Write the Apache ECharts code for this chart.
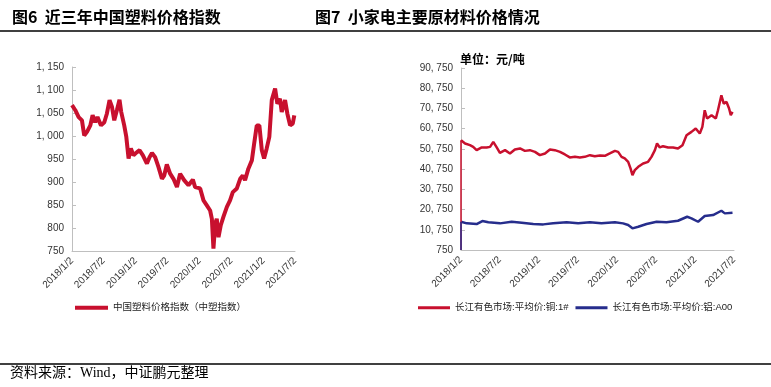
<!DOCTYPE html>
<html><head><meta charset="utf-8">
<script src="https://cdn.jsdelivr.net/npm/echarts@6/dist/echarts.min.js"></script>
<style>html,body{margin:0;padding:0;background:#fff}#c{width:771px;height:387px}</style>
</head><body><div id="c"></div>
<script>
// ---------- DATA ----------
const plasticDates = ['2018-01-02','2018-01-21','2018-02-09','2018-02-28','2018-03-13','2018-03-29','2018-04-17','2018-04-30','2018-05-15','2018-05-28','2018-06-17','2018-07-06','2018-07-21','2018-08-05','2018-08-19','2018-09-01','2018-09-16','2018-10-01','2018-10-11','2018-10-28','2018-11-09','2018-11-22','2018-12-05','2018-12-20','2019-01-09','2019-01-24','2019-02-12','2019-03-07','2019-03-22','2019-04-05','2019-04-23','2019-05-12','2019-06-01','2019-06-14','2019-06-29','2019-07-18','2019-08-06','2019-08-26','2019-09-13','2019-10-06','2019-10-31','2019-11-25','2019-12-08','2020-01-06','2020-01-25','2020-02-13','2020-03-03','2020-03-13','2020-03-22','2020-04-01','2020-04-10','2020-04-20','2020-05-03','2020-05-18','2020-06-07','2020-06-25','2020-07-11','2020-08-03','2020-08-22','2020-09-06','2020-09-19','2020-10-08','2020-10-28','2020-11-10','2020-11-25','2020-12-10','2020-12-24','2021-01-06','2021-01-21','2021-02-05','2021-02-19','2021-03-10','2021-03-23','2021-04-07','2021-04-17','2021-05-06','2021-05-19','2021-06-04','2021-06-19','2021-06-28'];
const plasticValues = [1067,1056,1041,1034,1001,1009,1023,1045,1030,1041,1023,1030,1049,1078,1063,1034,1056,1079,1052,1023,998,951,973,958,965,969,958,940,954,963,954,933,907,914,938,918,907,889,918,904,893,905,889,886,860,849,838,820,755,810,820,780,806,824,846,860,878,886,907,914,904,929,947,983,1023,1023,969,951,973,998,1078,1103,1070,1081,1052,1078,1049,1023,1027,1045];

const copperDates = ['2018-01-02','2018-01-21','2018-02-13','2018-02-28','2018-03-16','2018-04-09','2018-05-02','2018-05-18','2018-06-02','2018-06-18','2018-07-03','2018-07-27','2018-08-19','2018-09-11','2018-10-05','2018-10-28','2018-11-20','2018-12-14','2019-01-06','2019-01-30','2019-02-22','2019-03-17','2019-04-10','2019-05-03','2019-05-26','2019-06-19','2019-07-12','2019-08-04','2019-08-28','2019-09-20','2019-10-14','2019-11-06','2019-11-29','2019-12-23','2020-01-07','2020-01-23','2020-02-07','2020-02-23','2020-03-05','2020-03-14','2020-03-25','2020-04-10','2020-05-03','2020-05-26','2020-06-11','2020-06-27','2020-07-07','2020-07-20','2020-08-04','2020-08-28','2020-09-20','2020-10-13','2020-11-03','2020-11-22','2020-12-15','2021-01-04','2021-01-23','2021-02-04','2021-02-15','2021-02-26','2021-03-19','2021-04-08','2021-04-18','2021-05-04','2021-05-15','2021-05-28','2021-06-09','2021-06-17','2021-06-25'];
const copperValues = [55060,53430,52590,51750,50120,51460,51460,51750,54220,51460,48790,50120,48490,50460,50950,49770,50120,49280,47650,48490,50460,50120,49280,47990,46520,46810,46520,46810,47650,47150,47480,47310,48490,49770,49280,46810,46020,44350,41090,37780,40250,41880,43550,44350,46810,50120,53430,51460,52090,51460,51460,50950,52590,57530,59160,60850,58360,61620,69870,65770,67400,65770,69870,77270,73170,73960,70710,67400,69030];

const aluminumDates = ['2018-01-02','2018-01-29','2018-03-16','2018-04-12','2018-05-10','2018-07-03','2018-08-27','2018-10-13','2018-12-06','2019-01-22','2019-03-09','2019-05-11','2019-07-04','2019-08-28','2019-10-21','2019-12-23','2020-01-30','2020-02-23','2020-03-14','2020-04-10','2020-05-19','2020-07-05','2020-08-20','2020-10-13','2020-11-25','2020-12-15','2021-01-15','2021-02-15','2021-03-26','2021-05-04','2021-05-20','2021-06-25'];
const aluminumValues = [14720,13920,13590,15070,14430,13920,14720,14230,13590,13420,13920,14430,13920,14430,13920,14430,13920,13090,11460,12250,13590,14720,14430,15220,17200,16400,14720,17530,18030,20160,18860,19150];

const dateTickLabels = ['2018/1/2','2018/7/2','2019/1/2','2019/7/2','2020/1/2','2020/7/2','2021/1/2','2021/7/2'];
const plasticTicks = [750,800,850,900,950,1000,1050,1100,1150];
const metalTicks = [750,10750,20750,30750,40750,50750,60750,70750,80750,90750];

const plasticName = '中国塑料价格指数（中塑指数）';
const copperName = '长江有色市场:平均价:铜:1#';
const aluminumName = '长江有色市场:平均价:铝:A00';
const title6 = '图6  近三年中国塑料价格指数';
const title7 = '图7  小家电主要原材料价格情况';
const unitText = '单位：元/吨';
const sourceText = '资料来源：Wind，中证鹏元整理';

// ---------- BUILD ----------
function toTs(s){const p=s.split(/[\/-]/).map(Number);return new Date(p[0],p[1]-1,p[2]).getTime();}
const tickTs = dateTickLabels.map(toTs);
const zip = (d,v)=>d.map((x,i)=>[toTs(x),v[i]]);
const fmtDate = v=>{const d=new Date(v);return d.getFullYear()+'/'+(d.getMonth()+1)+'/'+d.getDate();};
const fmtNum = v=>String(v).replace(/\B(?=(\d{3})+(?!\d))/g, ', ');

const RED='#C8102E', NAVY='#262D8C', AX='#BFBFBF', LBL='#333';
const FONT='Liberation Sans, Arial, Noto Sans CJK SC, sans-serif';

function xAxisCfg(gi){
  return {type:'value', gridIndex:gi, min:tickTs[0], max:tickTs[tickTs.length-1], scale:true,
    axisLine:{show:true,onZero:false,lineStyle:{color:AX,width:1}}, axisTick:{show:false}, splitLine:{show:false},
    axisLabel:{customValues:tickTs, formatter:fmtDate, rotate:45, fontSize:10, color:LBL, fontFamily:FONT, margin:8, hideOverlap:false}};
}
function yAxisCfg(gi,ticks){
  return {type:'value', gridIndex:gi, min:ticks[0], max:ticks[ticks.length-1],
    axisLine:{show:true,onZero:false,lineStyle:{color:AX,width:1}},
    axisTick:{show:true, inside:true, length:4, customValues:ticks, lineStyle:{color:AX}},
    splitLine:{show:false},
    axisLabel:{customValues:ticks, formatter:fmtNum, fontSize:10, color:LBL, fontFamily:FONT, margin:8}};
}

const chart = echarts.init(document.getElementById('c'), null, {renderer:'canvas'});
chart.setOption({
  animation:false,
  backgroundColor:'#fff',
  grid:[
    {left:72, top:67, width:223, height:184},
    {left:461, top:68, width:273, height:182}
  ],
  xAxis:[xAxisCfg(0), xAxisCfg(1)],
  yAxis:[yAxisCfg(0,plasticTicks), yAxisCfg(1,metalTicks)],
  legend:[
    {left:75, top:303, padding:0, itemWidth:33, itemHeight:4, itemGap:7, icon:'rect',
      textStyle:{fontSize:9.5, color:'#222', fontFamily:FONT}, data:[plasticName]},
    {left:418, top:303, padding:0, itemWidth:32, itemHeight:3, itemGap:7, icon:'rect',
      textStyle:{fontSize:9.5, color:'#222', fontFamily:FONT}, data:[copperName, aluminumName]}
  ],
  series:[
    {name:plasticName, type:'line', xAxisIndex:0, yAxisIndex:0, data:zip(plasticDates,plasticValues),
      showSymbol:false, lineStyle:{color:RED,width:4}, itemStyle:{color:RED}},
    {name:copperName, type:'line', xAxisIndex:1, yAxisIndex:1, data:zip(copperDates,copperValues),
      showSymbol:false, lineStyle:{color:RED,width:2.5}, itemStyle:{color:RED},
      markLine:{silent:true, symbol:'none', label:{show:false}, lineStyle:{color:RED,width:1.5,type:'solid'},
        data:[[{coord:[toTs(copperDates[0]),metalTicks[0]]},{coord:[toTs(copperDates[0]),copperValues[0]]}]]}},
    {name:aluminumName, type:'line', xAxisIndex:1, yAxisIndex:1, data:zip(aluminumDates,aluminumValues),
      showSymbol:false, lineStyle:{color:NAVY,width:2.5}, itemStyle:{color:NAVY},
      markLine:{silent:true, symbol:'none', label:{show:false}, lineStyle:{color:NAVY,width:1.5,type:'solid'},
        data:[[{coord:[toTs(aluminumDates[0]),metalTicks[0]]},{coord:[toTs(aluminumDates[0]),aluminumValues[0]]}]]}}
  ],
  graphic:[
    {type:'text', left:12, top:9, style:{text:title6, fontSize:16, fontWeight:'bold', fill:'#000', fontFamily:'Noto Sans CJK SC'}},
    {type:'text', left:315, top:9, style:{text:title7, fontSize:16, fontWeight:'bold', fill:'#000', fontFamily:'Noto Sans CJK SC'}},
    {type:'line', shape:{x1:0,y1:31,x2:771,y2:31}, style:{stroke:'#000',lineWidth:1.5}},
    {type:'text', left:460, top:53, style:{text:unitText, fontSize:12, fontWeight:'bold', fill:'#000', fontFamily:'Noto Sans CJK SC'}},
    {type:'line', shape:{x1:0,y1:364,x2:771,y2:364}, style:{stroke:'#000',lineWidth:1.5}},
    {type:'text', left:10, top:366, style:{text:sourceText, fontSize:14, fill:'#000', fontFamily:'Liberation Serif, Noto Sans CJK SC'}}
  ]
});
</script></body></html>
